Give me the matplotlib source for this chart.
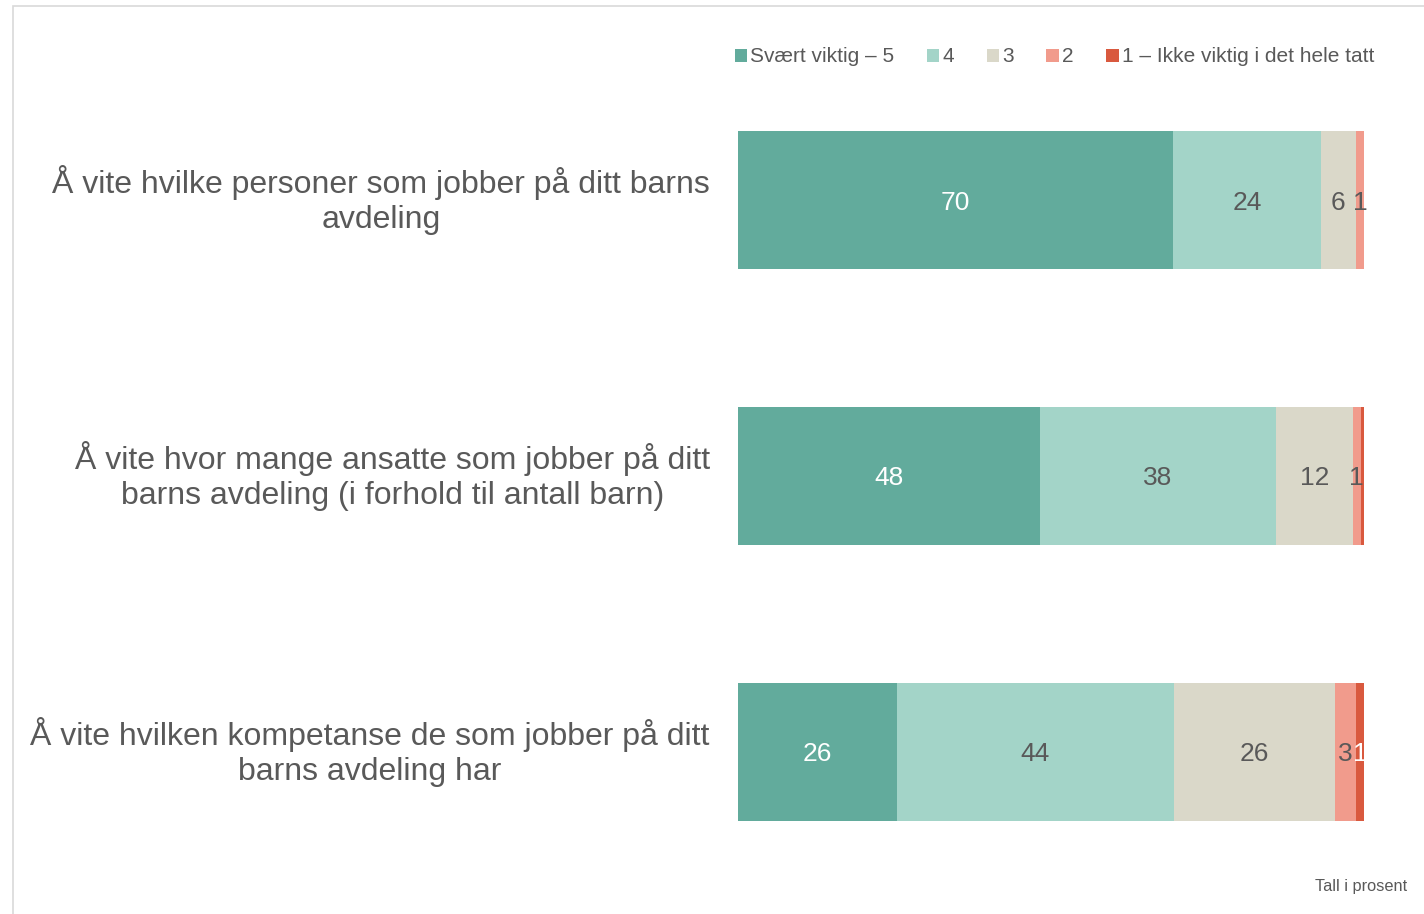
import matplotlib
matplotlib.use("Agg")
import matplotlib.pyplot as plt
from matplotlib.patches import Rectangle, Patch

plt.rcParams['font.family'] = ['Liberation Sans', 'DejaVu Sans']

categories = [
    "Å vite hvilke personer som jobber på ditt barns\navdeling",
    "Å vite hvor mange ansatte som jobber på ditt\nbarns avdeling (i forhold til antall barn)",
    "Å vite hvilken kompetanse de som jobber på ditt\nbarns avdeling har",
]
series_names = ["Svært viktig – 5", "4", "3", "2", "1 – Ikke viktig i det hele tatt"]
s5 = [69.5, 48.2, 25.4]
s4 = [23.6, 37.7, 44.2]
s3 = [5.6, 12.3, 25.7]
s2 = [1.3, 1.3, 3.4]
s1 = [0.0, 0.5, 1.3]
labels5 = ["70", "48", "26"]
labels4 = ["24", "38", "44"]
labels3 = ["6", "12", "26"]
labels2 = ["1", "1", "3"]
labels1 = ["", "", "1"]

colors = ["#62AB9C", "#A3D4C8", "#DAD8C9", "#F19B8C", "#D9593E"]
text_colors = ["white", "#595959", "#595959", "#595959", "white"]

W, H = 1424, 914
fig = plt.figure(figsize=(W / 100, H / 100), dpi=100)

# light border (top & left)
fig.add_artist(Rectangle((13 / W, -0.1), 2.0, (H - 6) / H + 0.1, transform=fig.transFigure,
                         fill=False, edgecolor="#D9D9D9", linewidth=1.2))

ax = fig.add_axes([738 / W, 0.05, (1364 - 738) / W, 0.9])
y = [0, 1, 2]
series = [s5, s4, s3, s2, s1]
labels = [labels5, labels4, labels3, labels2, labels1]
left = [0.0, 0.0, 0.0]
for vals, labs, col, tc in zip(series, labels, colors, text_colors):
    ax.barh(y, vals, left=left, height=0.5, color=col, edgecolor="none")
    for i, (v, lab) in enumerate(zip(vals, labs)):
        if lab:
            ax.text(left[i] + v / 2, y[i], lab, ha="center", va="center_baseline",
                    fontsize=19, color=tc)
    left = [l + v for l, v in zip(left, vals)]

ax.set_xlim(0, 100)
ax_top_px = H * 0.05
ax_bot_px = H * 0.95
def px_to_data(px):
    return (px - 200) / 276.0
ax.set_ylim(px_to_data(ax_bot_px), px_to_data(ax_top_px))
ax.axis("off")

for i, cat in enumerate(categories):
    ax.text(-4.5, y[i], cat, ha="right", va="center", multialignment="center",
            fontsize=23, color="#595959", linespacing=1.22)

handles = [Patch(facecolor=c, edgecolor="none") for c in colors]
fig.legend(handles, series_names, loc="center right", bbox_to_anchor=(1374 / W, 1 - 57 / H),
           ncol=5, frameon=False, fontsize=15, handlelength=0.6, handleheight=0.6,
           handletextpad=0.15, columnspacing=1.56, labelcolor="#595959",
           borderaxespad=0, borderpad=0)

fig.text(1407 / W, 1 - 887 / H, "Tall i prosent", ha="right", va="center", fontsize=11.8,
         color="#595959")

fig.savefig("out.png", dpi=100)
